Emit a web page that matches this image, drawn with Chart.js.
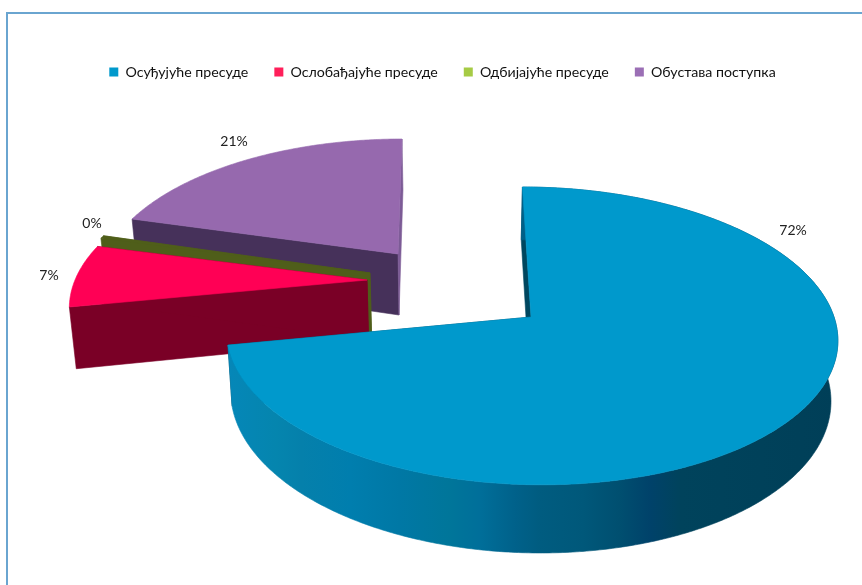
<!DOCTYPE html>
<html><head><meta charset="utf-8">
<style>html,body{margin:0;padding:0;background:#fff}canvas{display:block}</style>
<script src="https://cdn.jsdelivr.net/npm/chart.js@4"></script>
</head><body>
<canvas id="c" width="862" height="585"></canvas>
<script>
const categories = ['Осуђујуће пресуде','Ослобађајуће пресуде','Одбијајуће пресуде','Обустава поступка'];
const values = [72, 7, 0.3, 20.7];
const legendColors = ['#0099CC','#FF1F5A','#A6CB45','#9B6FB5'];
const faceColors = ['#0099CC','#FF0055','#4F5E1A','#9669AE'];
const cutColors = [['#00475F','#00475F'],['#7A0026','#7A0026'],['#4F5E1A','#4F5E1A'],['#46315A','#7C5B96']];
const labelPositions = [[793,230],[49,275],[92,223],[234,141]];
const geometry = [
  {ax:531,ay:317,A:303,B:146.5,p:0.127,vx:455,D:59.5},
  {ax:367,ay:280,A:292,B:140,p:0.15,vx:455,D:60},
  {ax:370,ay:273,A:296,B:147,p:0.2,vx:455,D:60},
  {ax:398,ay:254,A:292,B:138,p:0.2,vx:422,D:61}
];
const NADIR_X = 455, CONVERGE = 0.018;
const FONT = 'Lato, "Noto Sans", sans-serif';

function project(g, theta, r, deep){
  const u = r*Math.sin(theta), v = -r*Math.cos(theta), w = 1 - g.p*v;
  let x = g.vx + (g.ax - g.vx + g.A*u)/w;
  let y = g.ay + g.B*v/w;
  if (deep){ y += g.D/w; x = NADIR_X + (x-NADIR_X)*(1-CONVERGE); }
  return [x,y];
}
function poly(ctx, pts, color){
  ctx.fillStyle = color; ctx.strokeStyle = color; ctx.lineWidth = 0.6;
  ctx.beginPath(); pts.forEach((p,i)=> i?ctx.lineTo(p[0],p[1]):ctx.moveTo(p[0],p[1]));
  ctx.closePath(); ctx.fill(); ctx.stroke();
}
const pie3d = {
  id:'pie3d',
  beforeDraw(chart){
    const ctx = chart.ctx;
    ctx.save();
    ctx.fillStyle = '#fff'; ctx.fillRect(0,0,862,585);
    ctx.strokeStyle = '#6AA5D0'; ctx.lineWidth = 2;
    ctx.beginPath(); ctx.moveTo(7,590); ctx.lineTo(7,13); ctx.lineTo(870,13); ctx.stroke();
    ctx.restore();
  },
  beforeDatasetDraw(chart){
    const ctx = chart.ctx, arcs = chart.getDatasetMeta(0).data;
    const grad = ctx.createLinearGradient(228,0,840,0);
    [[0,'#0587B8'],[0.08,'#0585AE'],[0.12,'#0580AB'],[0.2,'#007EAE'],[0.28,'#0078A5'],[0.36,'#00769A'],[0.41,'#006F9A'],[0.47,'#00618A'],[0.51,'#005C80'],[0.58,'#00587A'],[0.64,'#004F70'],[0.69,'#00426A'],[0.74,'#00435C'],[1,'#003F58']]
      .forEach(s=>grad.addColorStop(s[0],s[1]));
    ctx.save();
    for (let i = arcs.length-1; i >= 0; i--){
      const g = geometry[i];
      const a0 = arcs[i].startAngle + Math.PI/2, a1 = arcs[i].endAngle + Math.PI/2;
      const apexT = project(g,0,0,false), apexB = project(g,0,0,true);
      poly(ctx,[apexT,project(g,a0,1,false),project(g,a0,1,true),apexB],cutColors[i][0]);
      poly(ctx,[apexT,project(g,a1,1,false),project(g,a1,1,true),apexB],cutColors[i][1]);
      const n = Math.max(2,Math.ceil((a1-a0)/0.01));
      const topArc = [], lowArc = [];
      for (let k = 0; k <= n; k++){
        const t = a0+(a1-a0)*k/n;
        topArc.push(project(g,t,1,false));
        lowArc.push(project(g,t,1,true));
      }
      if (i === 0) poly(ctx,topArc.concat(lowArc.slice().reverse()),grad);
      poly(ctx,[apexT].concat(topArc),faceColors[i]);
    }
    ctx.restore();
    return false;
  },
  afterDatasetsDraw(chart){
    const ctx = chart.ctx, total = values.reduce((s,v)=>s+v,0);
    ctx.save();
    ctx.font = '14px '+FONT; ctx.fillStyle = '#222';
    ctx.textAlign = 'center'; ctx.textBaseline = 'middle';
    values.forEach((v,i)=>ctx.fillText(Math.round(v/total*100)+'%',labelPositions[i][0],labelPositions[i][1]));
    ctx.restore();
  }
};
new Chart(document.getElementById('c'),{
  type:'pie',
  data:{labels:categories,datasets:[{data:values,backgroundColor:legendColors,borderWidth:0}]},
  options:{
    responsive:false,animation:false,
    layout:{padding:{left:23,top:39}},
    plugins:{
      tooltip:{enabled:false},
      legend:{position:'top',labels:{boxWidth:9,boxHeight:9,padding:26,color:'#111',font:{family:FONT,size:14.2}}}
    }
  },
  plugins:[pie3d]
});
</script>
</body></html>
